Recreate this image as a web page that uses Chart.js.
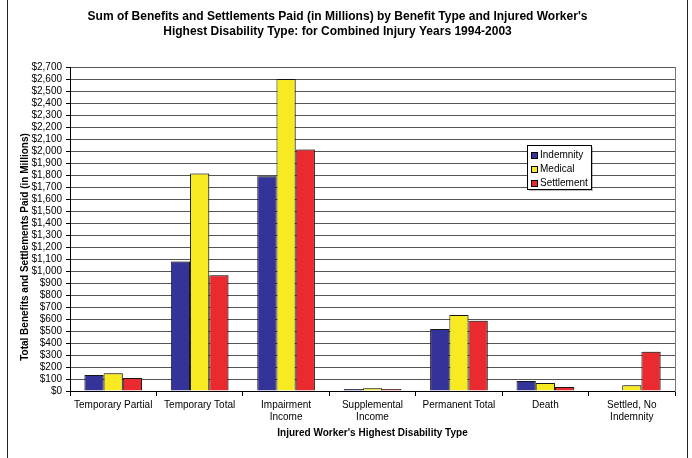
<!DOCTYPE html>
<html>
<head>
<meta charset="utf-8">
<script src="https://cdn.jsdelivr.net/npm/chart.js@4.4.1/dist/chart.umd.min.js"></script>
<style>
  body { margin: 0; background: #fff; }
  #wrap { position: relative; width: 692px; height: 458px; overflow: hidden; }
  #frame { position: absolute; left: 7px; top: -4px; width: 679px; height: 470px; border: 1px solid #222; }
  canvas { position: absolute; left: 0; top: 0; }
</style>
</head>
<body>
<div id="wrap">
  <div id="frame"></div>
  <canvas id="chart" width="692" height="458"></canvas>
</div>
<script>
// Data
const categories = [
    ['Temporary Partial'],
    ['Temporary Total'],
    ['Impairment', 'Income'],
    ['Supplemental', 'Income'],
    ['Permanent Total'],
    ['Death'],
    ['Settled, No', 'Indemnity']
];
const indemnity = [133, 1080, 1790, 17, 517, 83, 0];
const medical = [147, 1812, 2600, 22, 633, 67, 47];
const settlement = [108, 965, 2012, 17, 586, 33, 328];
const yMax = 2700;
const yStep = 100;
const yTitle = 'Total Benefits and Settlements Paid (in Millions)';

const FONT = 'Arial, "Liberation Sans", sans-serif';
Chart.defaults.font.family = FONT;
Chart.defaults.color = '#000';

// Soft shadow behind bars, like the old Excel look
const barShadow = {
    id: 'barShadow',
    beforeDatasetsDraw(chart) {
        const c = chart.ctx;
        c.save();
        c.shadowColor = 'rgba(0,0,0,0.22)';
        c.shadowOffsetX = 2;
        c.shadowOffsetY = -1;
        c.shadowBlur = 0;
    },
    afterDatasetsDraw(chart) {
        chart.ctx.restore();
    }
};

// Y axis title sits a bit below the plot middle in the original
const yAxisTitle = {
    id: 'yAxisTitle',
    afterDraw(chart) {
        const c = chart.ctx;
        c.save();
        c.translate(25, 247);
        c.rotate(-Math.PI / 2);
        c.font = 'bold 10px ' + FONT;
        c.fillStyle = '#000';
        c.textAlign = 'center';
        c.textBaseline = 'middle';
        c.fillText(yTitle, 0, 0);
        c.restore();
    }
};

// Boxed legend inside the plot area
const boxLegend = {
    id: 'boxLegend',
    afterDraw(chart) {
        const c = chart.ctx;
        const x = 527, y = 145, w = 64, h = 44;
        c.save();
        c.fillStyle = 'rgba(0,0,0,0.25)';
        c.fillRect(x + 2, y + 2, w, h);
        c.fillStyle = '#fff';
        c.fillRect(x, y, w, h);
        c.strokeStyle = '#000';
        c.lineWidth = 1;
        c.strokeRect(x + 0.5, y + 0.5, w, h);
        c.font = '10px ' + FONT;
        c.textBaseline = 'middle';
        chart.data.datasets.forEach((ds, i) => {
            const ry = Math.round(y + 9.5 + i * 14.3);
            c.fillStyle = ds.backgroundColor;
            c.fillRect(x + 4, ry - 3, 6, 6);
            c.strokeStyle = '#000';
            c.strokeRect(x + 4.5, ry - 2.5, 6, 6);
            c.fillStyle = '#000';
            c.fillText(ds.label, x + 13, ry + 0.5);
        });
        c.restore();
    }
};

const ctx = document.getElementById('chart').getContext('2d');
const chart = new Chart(ctx, {
    type: 'bar',
    data: {
        labels: categories,
        datasets: [{
            label: 'Indemnity',
            data: indemnity,
            backgroundColor: '#333399',
            borderColor: '#1a1a1a',
            borderWidth: 1
        }, {
            label: 'Medical',
            data: medical,
            backgroundColor: '#F7EA22',
            borderColor: '#1a1a1a',
            borderWidth: 1
        }, {
            label: 'Settlement',
            data: settlement,
            backgroundColor: '#EA2A2E',
            borderColor: '#1a1a1a',
            borderWidth: 1
        }]
    },
    options: {
        responsive: false,
        animation: false,
        devicePixelRatio: 1,
        layout: { padding: { top: 0, right: 17, bottom: 15, left: 0 } },
        datasets: {
            bar: { categoryPercentage: 0.667, barPercentage: 1.0 }
        },
        plugins: {
            legend: { display: false },
            tooltip: { enabled: false },
            title: {
                display: true,
                text: [
                    "Sum of Benefits and Settlements Paid (in Millions) by Benefit Type and Injured Worker's",
                    'Highest Disability Type: for Combined Injury Years 1994-2003'
                ],
                color: '#000',
                font: { size: 12, weight: 'bold', lineHeight: 1.25 },
                padding: { top: 9, bottom: 28 }
            }
        },
        scales: {
            x: {
                grid: {
                    display: true,
                    drawOnChartArea: false,
                    offset: true,
                    tickLength: 5,
                    tickColor: '#000'
                },
                border: { color: '#000' },
                ticks: {
                    font: { size: 10 },
                    color: '#000',
                    padding: 3,
                    maxRotation: 0,
                    autoSkip: false
                },
                title: {
                    display: true,
                    text: "Injured Worker's Highest Disability Type",
                    font: { size: 10, weight: 'bold' },
                    padding: { top: 4, bottom: 4 }
                },
                afterFit(scale) { scale.height = 52; }
            },
            y: {
                min: 0,
                max: yMax,
                ticks: {
                    stepSize: yStep,
                    autoSkip: false,
                    font: { size: 10 },
                    color: '#000',
                    padding: 4,
                    callback: v => '$' + v.toLocaleString('en-US')
                },
                grid: {
                    color: '#555',
                    tickLength: 4,
                    tickColor: '#000'
                },
                border: { color: '#000' },
                afterFit(scale) { scale.width = 70; }
            },
            y2: {
                type: 'linear',
                position: 'right',
                min: 0,
                max: yMax,
                ticks: { display: false },
                grid: { display: false },
                border: { display: true, color: '#777' },
                afterFit(scale) { scale.width = 0; }
            }
        }
    },
    plugins: [barShadow, yAxisTitle, boxLegend]
});
</script>
</body>
</html>
